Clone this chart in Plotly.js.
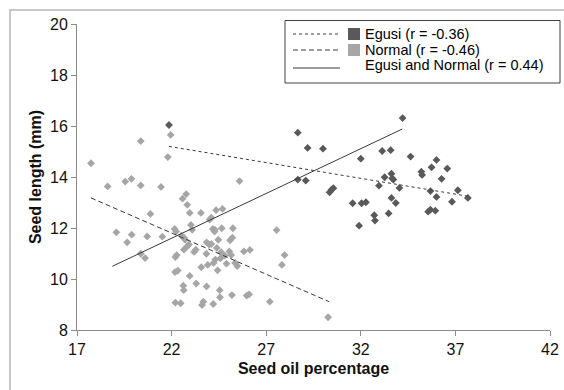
<!DOCTYPE html>
<html>
<head>
<meta charset="utf-8">
<script src="https://cdn.plot.ly/plotly-3.0.1.min.js"></script>
<style>
  html, body { margin: 0; padding: 0; background: #ffffff; }
  #wrap { position: relative; width: 564px; height: 390px; overflow: hidden; }
  #chart { position: absolute; left: 0; top: 0; width: 564px; height: 390px; }
  #frame { position: absolute; left: 9px; top: 9px; width: 600px; height: 420px;
           border: 2px solid #c8c8c8; box-sizing: border-box; pointer-events: none; }
</style>
</head>
<body>
<div id="wrap">
  <div id="chart"></div>
  <div id="frame"></div>
</div>
<script>
// Egusi seeds: oil percentage vs seed length (mm)
const egusiOil = [21.86, 28.67, 29.19, 30.00, 28.67, 29.09, 30.35, 30.45, 30.55,
  31.57, 32.04, 32.27, 31.91, 32.00, 32.71, 32.75, 32.96, 33.13, 33.26, 33.47,
  33.58, 33.62, 33.66, 33.72, 33.62, 33.85, 34.04, 34.21, 34.63, 35.20, 35.24,
  35.68, 35.74, 35.56, 35.68, 35.94, 36.00, 36.00, 36.27, 36.57, 36.82, 37.13, 37.66];
const egusiLength = [16.04, 15.74, 15.14, 15.11, 13.90, 13.86, 13.40, 13.50, 13.56,
  12.97, 12.97, 13.01, 12.09, 14.72, 12.50, 12.29, 13.66, 15.02, 13.99, 12.57,
  15.05, 14.13, 13.95, 13.90, 13.18, 12.98, 13.57, 16.31, 14.80, 14.21, 14.08,
  13.45, 14.38, 12.64, 12.72, 12.68, 14.67, 13.22, 13.93, 14.33, 13.03, 13.48, 13.18];

// Normal seeds: oil percentage vs seed length (mm)
const normalOil = [17.74, 18.62, 19.08, 19.55, 19.65, 19.88, 19.89, 20.37, 20.37, 20.37,
  20.60, 20.71, 20.88, 21.44, 21.51, 21.80, 21.95, 22.16, 22.20, 22.24,
  22.27, 22.18, 22.33, 22.20, 22.48, 22.52, 22.58, 22.62, 22.64, 22.65,
  22.71, 22.65, 22.77, 22.83, 22.83, 22.92, 22.96, 22.96, 23.02, 23.09,
  23.19, 23.28, 23.30, 23.55, 23.57, 23.61, 23.68, 23.84, 23.85, 23.85,
  23.91, 23.99, 24.01, 24.10, 24.10, 24.18, 24.22, 24.27, 24.29, 24.35,
  24.20, 24.31, 24.39, 24.43, 24.47, 24.54, 24.56, 24.58, 24.65, 24.69,
  24.62, 24.81, 24.90, 25.05, 25.09, 25.15, 25.19, 25.21, 25.24, 25.36,
  25.47, 25.59, 25.82, 25.97, 26.10, 26.14, 27.19, 27.55, 27.83, 27.97, 30.27];
const normalLength = [14.54, 13.63, 11.83, 13.82, 11.44, 13.93, 11.74, 15.41, 13.67, 10.99,
  10.82, 11.67, 12.55, 13.61, 11.66, 14.78, 15.65, 11.96, 10.86, 11.86,
  10.94, 10.27, 10.33, 9.07, 9.05, 11.70, 13.15, 9.74, 9.56, 11.62,
  11.54, 11.15, 13.33, 11.28, 12.91, 11.35, 10.12, 12.59, 12.12, 11.93,
  11.06, 11.15, 9.82, 12.59, 10.46, 8.98, 9.11, 10.99, 9.71, 11.44,
  10.55, 11.35, 12.33, 12.41, 11.37, 11.96, 10.63, 11.86, 11.93, 12.70,
  9.02, 10.76, 11.22, 10.34, 11.54, 9.56, 9.28, 10.81, 11.99, 12.75,
  11.05, 10.92, 10.60, 11.08, 11.52, 10.94, 9.37, 11.62, 11.99, 10.63,
  10.51, 13.84, 11.08, 9.35, 9.40, 11.14, 9.11, 11.92, 10.55, 10.94, 8.50];

// Linear trend line end points
const egusiFitX = [21.86, 37.72];
const egusiFitY = [15.20, 13.24];
const normalFitX = [17.74, 30.33];
const normalFitY = [13.18, 9.11];
const allFitX = [18.87, 34.19];
const allFitY = [10.50, 15.88];

// Axis ticks
const xTicks = [17, 22, 27, 32, 37, 42];
const yTicks = [8, 10, 12, 14, 16, 18, 20];

// Legend entries
const legendLabels = ['Egusi (r = -0.36)', 'Normal (r = -0.46)', 'Egusi and Normal (r = 0.44)'];

const darkGrey = '#595959';
const lightGrey = '#a6a6a6';
const lineColor = '#3a3a3a';
const axisGrey = '#8c8c8c';
const FONT = '"Liberation Sans", Arial, sans-serif';

const W = 564, H = 390;
const M = { l: 77, r: 14, t: 24, b: 60 };
const plotW = W - M.l - M.r, plotH = H - M.t - M.b;
// pixel -> paper coordinate helpers for the legend box
const px = x => (x - M.l) / plotW;
const py = y => (H - M.b - y) / plotH;

const traces = [
  { x: normalOil, y: normalLength, type: 'scatter', mode: 'markers', name: legendLabels[1],
    marker: { symbol: 'diamond', size: 6, color: lightGrey }, showlegend: false, cliponaxis: false },
  { x: egusiOil, y: egusiLength, type: 'scatter', mode: 'markers', name: legendLabels[0],
    marker: { symbol: 'diamond', size: 6, color: darkGrey }, showlegend: false, cliponaxis: false },
  { x: egusiFitX, y: egusiFitY, type: 'scatter', mode: 'lines', showlegend: false,
    line: { color: lineColor, width: 1, dash: 'dot' } },
  { x: normalFitX, y: normalFitY, type: 'scatter', mode: 'lines', showlegend: false,
    line: { color: lineColor, width: 1, dash: '5px,3px' } },
  { x: allFitX, y: allFitY, type: 'scatter', mode: 'lines', showlegend: false,
    line: { color: lineColor, width: 1 } }
];

// Legend drawn as shapes and annotations
const rowY = [34, 50, 66];
const lineDash = ['dot', '5px,3px', 'solid'];
const swatch = [darkGrey, lightGrey, null];
const shapes = [
  { type: 'rect', xref: 'paper', yref: 'paper', x0: px(285), x1: px(560), y0: py(83), y1: py(20.5),
    line: { color: '#404040', width: 1 }, fillcolor: 'rgba(255,255,255,1)', layer: 'above' }
];
const annotations = [];
legendLabels.forEach((lab, i) => {
  shapes.push({ type: 'line', xref: 'paper', yref: 'paper', x0: px(293), x1: px(340),
    y0: py(rowY[i] + (i === 2 ? 2 : 0)), y1: py(rowY[i] + (i === 2 ? 2 : 0)),
    line: { color: lineColor, width: 1, dash: lineDash[i] }, layer: 'above' });
  if (swatch[i]) {
    shapes.push({ type: 'rect', xref: 'paper', yref: 'paper', x0: px(348), x1: px(360),
      y0: py(rowY[i] + 6), y1: py(rowY[i] - 6), line: { width: 0 }, fillcolor: swatch[i], layer: 'above' });
  }
  annotations.push({ xref: 'paper', yref: 'paper', x: px(363), y: py(rowY[i] - 0.5),
    xanchor: 'left', yanchor: 'middle', showarrow: false, text: lab,
    font: { family: FONT, size: 14.5, color: '#000' } });
});

const layout = {
  width: W, height: H,
  margin: M,
  paper_bgcolor: '#ffffff', plot_bgcolor: '#ffffff',
  showlegend: false,
  font: { family: FONT, color: '#000' },
  xaxis: {
    range: [17, 42], tickvals: xTicks, ticktext: xTicks.map(String),
    showgrid: false, zeroline: false, showline: true, linecolor: axisGrey, linewidth: 1,
    ticks: 'outside', ticklen: 5, tickcolor: axisGrey, tickfont: { family: FONT, size: 16, color: '#111' },
    title: { text: 'Seed oil percentage', font: { family: FONT, size: 16, color: '#111', weight: 'bold' }, standoff: 5 }
  },
  yaxis: {
    range: [8, 20], tickvals: yTicks, ticktext: yTicks.map(String),
    showgrid: false, zeroline: false, showline: true, linecolor: axisGrey, linewidth: 1,
    ticks: 'outside', ticklen: 5, tickcolor: axisGrey, tickfont: { family: FONT, size: 16, color: '#111' },
    title: { text: 'Seed length (mm)', font: { family: FONT, size: 16, color: '#111', weight: 'bold' }, standoff: 4 }
  },
  shapes: shapes,
  annotations: annotations
};

Plotly.newPlot('chart', traces, layout, { staticPlot: true, displayModeBar: false });
</script>
</body>
</html>
